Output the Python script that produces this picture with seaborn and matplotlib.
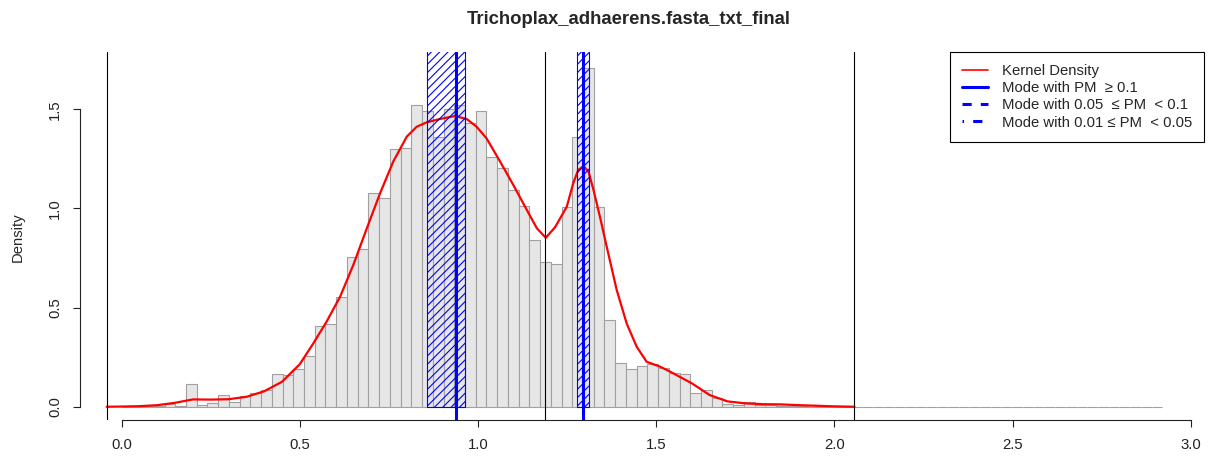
import numpy as np
import pandas as pd
import matplotlib
matplotlib.use("Agg")
import matplotlib.pyplot as plt
import seaborn as sns
from matplotlib.patches import Rectangle
from matplotlib.lines import Line2D

# ---------------- data ----------------
hist_range = [0.0, 2.92]
n_bins = 97
hist_density = [
    0.000, 0.000, 0.002, 0.004, 0.012, 0.004, 0.113, 0.007, 0.019, 0.061,
    0.022, 0.056, 0.069, 0.084, 0.163, 0.158, 0.188, 0.256, 0.405, 0.415,
    0.553, 0.753, 0.795, 1.079, 1.052, 1.300, 1.305, 1.523, 1.490, 1.362,
    1.500, 1.520, 1.432, 1.490, 1.258, 1.202, 1.091, 1.014, 0.842, 0.728,
    0.722, 1.005, 1.358, 1.710, 1.005, 0.437, 0.219, 0.190, 0.205, 0.214,
    0.197, 0.168, 0.163, 0.067, 0.083, 0.042, 0.014, 0.010, 0.024, 0.010,
    0.007, 0.003, 0.005, 0.003, 0.008, 0.003, 0.004, 0.000, 0.000, 0.000,
    0.000, 0.000, 0.000, 0.000, 0.000, 0.000, 0.000, 0.000, 0.000, 0.000,
    0.000, 0.000, 0.000, 0.000, 0.000, 0.000, 0.000, 0.000, 0.000, 0.000,
    0.000, 0.000, 0.000, 0.000, 0.000, 0.000, 0.000,
]

kde_x = [-0.042, 0.0, 0.05, 0.10, 0.15, 0.20, 0.25, 0.30, 0.35, 0.40,
         0.45, 0.50, 0.538, 0.575, 0.613, 0.650, 0.688, 0.725, 0.762, 0.800,
         0.828, 0.856, 0.893, 0.935, 0.968, 0.996, 1.024, 1.062, 1.099, 1.137,
         1.165, 1.190, 1.216, 1.249, 1.267, 1.281, 1.296, 1.310, 1.324, 1.342,
         1.361, 1.389, 1.417, 1.445, 1.473, 1.511, 1.539, 1.60, 1.65, 1.70,
         1.75, 1.80, 1.85, 1.90, 1.95, 2.00, 2.056]
kde_y = [0.000, 0.001, 0.003, 0.008, 0.020, 0.037, 0.036, 0.038, 0.050, 0.078,
         0.126, 0.215, 0.320, 0.429, 0.555, 0.715, 0.900, 1.076, 1.236, 1.362,
         1.412, 1.434, 1.451, 1.466, 1.451, 1.412, 1.353, 1.236, 1.118, 0.992,
         0.900, 0.852, 0.905, 1.009, 1.127, 1.194, 1.214, 1.185, 1.093, 0.958,
         0.807, 0.589, 0.420, 0.303, 0.227, 0.202, 0.177, 0.118, 0.059, 0.027,
         0.017, 0.013, 0.012, 0.008, 0.005, 0.002, 0.000]

boundaries = [-0.042, 1.188, 2.056]
mode_pos = [0.938, 1.294]
mode_lo = [0.856, 1.277]
mode_hi = [0.9635, 1.310]

title = "Trichoplax_adhaerens.fasta_txt_final"
legend_labels = ["Kernel Density", "Mode with PM  \u2265 0.1",
                 "Mode with 0.05  \u2264 PM  < 0.1", "Mode with 0.01 \u2264 PM  < 0.05"]
x_ticks = [0.0, 0.5, 1.0, 1.5, 2.0, 2.5, 3.0]
y_ticks = [0.0, 0.5, 1.0, 1.5]

# ---------------- style ----------------
sns.set_style("white")
plt.rcParams["font.family"] = ["Liberation Sans", "DejaVu Sans"]
plt.rcParams["hatch.linewidth"] = 0.8

FS = 10.7
W, H = 1215, 459
fig = plt.figure(figsize=(W / 100, H / 100), dpi=100)
ax = fig.add_axes([80 / W, (H - 420.4) / H, 1124 / W, 368.4 / H])

edges = np.linspace(hist_range[0], hist_range[1], n_bins + 1)
centers = (edges[:-1] + edges[1:]) / 2
df = pd.DataFrame({"x": centers, "d": hist_density})
sns.histplot(data=df, x="x", weights="d", bins=edges.tolist(), stat="count",
             color="#E6E6E6", edgecolor="#A0A0A0", linewidth=0.8, alpha=1,
             ax=ax, zorder=1)

kdf = pd.DataFrame({"x": kde_x, "y": kde_y})
sns.lineplot(data=kdf, x="x", y="y", color="red", linewidth=1.6, ax=ax,
             sort=False, zorder=3)

for b in boundaries:
    ax.axvline(b, color="black", linewidth=0.8, zorder=4)

for lo, hi in zip(mode_lo, mode_hi):
    ax.add_patch(Rectangle((lo, 0), hi - lo, 10, fill=False, hatch="////",
                           edgecolor="blue", linewidth=0.8, zorder=4))
for m in mode_pos:
    ax.axvline(m, color="blue", linewidth=2.2, zorder=5)

ax.set_xlim(-0.1168, 3.0368)
ax.set_ylim(-0.0688, 1.7888)
ax.set_xlabel("")
ax.set_ylabel("")
ax.set_xticks(x_ticks)
ax.set_xticklabels([f"{t:.1f}" for t in x_ticks])
ax.set_yticks(y_ticks)
ax.set_yticklabels([f"{t:.1f}" for t in y_ticks], rotation=90, va="center")

for s in ["top", "right"]:
    ax.spines[s].set_visible(False)
for s in ["left", "bottom"]:
    ax.spines[s].set_color("#222222")
    ax.spines[s].set_linewidth(0.8)
ax.spines["bottom"].set_bounds(0, 3)
ax.spines["left"].set_bounds(0, 1.5)
ax.tick_params(axis="x", bottom=True, length=5, width=0.8, direction="out",
               pad=8, labelsize=FS, colors="#222222", labelcolor="#222222")
ax.tick_params(axis="y", left=True, length=5, width=0.8, direction="out",
               pad=8, labelsize=FS, colors="#222222", labelcolor="#222222")

handles = [Line2D([], [], color="red", linewidth=1.2),
           Line2D([], [], color="blue", linewidth=2.2),
           Line2D([], [], color="blue", linewidth=2.2, linestyle=(0, (3, 3))),
           Line2D([], [], color="blue", linewidth=2.2, linestyle=(0, (0.5, 3, 3, 3)))]
leg = ax.legend(handles, legend_labels, loc="upper right", borderaxespad=0,
                fontsize=FS, frameon=True, fancybox=False, framealpha=1,
                edgecolor="black", handlelength=1.8, handletextpad=0.9,
                labelspacing=0.22, borderpad=0.8)
leg.get_frame().set_linewidth(0.8)

fig.text(629 / W, 1 - 19 / H, title, ha="center", va="center",
         fontsize=13.3, fontweight="bold")
fig.text(18 / W, 1 - 237 / H, "Density", rotation=90, ha="center",
         va="center", fontsize=FS)

fig.savefig("out.png", dpi=100, facecolor="white")
